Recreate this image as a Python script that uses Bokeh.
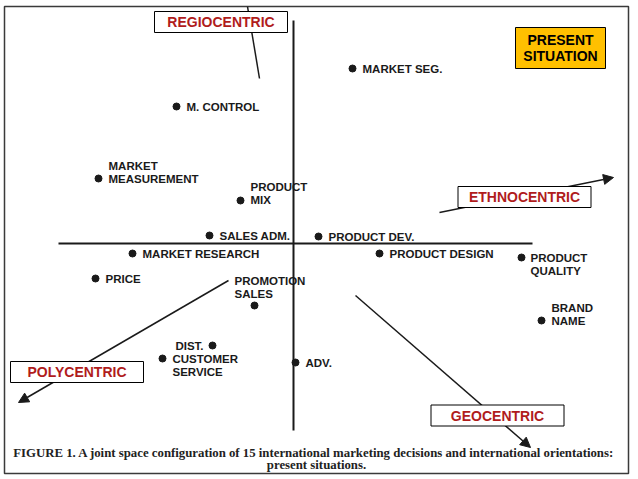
from bokeh.plotting import figure
from bokeh.models import Range1d, Arrow, NormalHead
from bokeh.core.properties import value
from bokeh.embed import file_html
from bokeh.resources import INLINE

# ---------------- data ----------------
decisions = ["M. CONTROL", "MARKET SEG.", "MARKET\nMEASUREMENT", "PRODUCT\nMIX", "SALES ADM.",
             "PRODUCT DEV.", "MARKET RESEARCH", "PRICE", "PROMOTION\nSALES", "DIST.",
             "CUSTOMER\nSERVICE", "ADV.", "PRODUCT DESIGN", "PRODUCT\nQUALITY", "BRAND\nNAME"]
dim1 = [-1.17, 0.59, -1.95, -0.53, -0.84, 0.25, -1.61, -1.98, -0.39, -0.81, -1.31, 0.02, 0.86, 2.28, 2.48]
dim2 = [1.37, 1.75, 0.65, 0.43, 0.08, 0.07, -0.10, -0.35, -0.62, -1.02, -1.15, -1.19, -0.10, -0.14, -0.77]

orientations = ["REGIOCENTRIC", "ETHNOCENTRIC", "POLYCENTRIC", "GEOCENTRIC"]
vec_x0 = [-0.34, 1.46, -0.65, 0.62]
vec_y0 = [1.65, 0.31, -0.37, -0.52]
vec_x1 = [-0.46, 3.20, -2.75, 2.37]
vec_y1 = [2.37, 0.66, -1.59, -2.04]
vec_head = [False, True, True, True]

axis_h = [-2.35, 2.39]   # extent of dimension-1 axis
axis_v = [-1.87, 2.23]   # extent of dimension-2 axis

badge_text = "PRESENT\nSITUATION"
caption = ["FIGURE 1.  A joint space configuration of 15 international marketing decisions and international orientations:",
           "present situations."]

# ---------------- layout / style ----------------
W, H = 638, 479
BL, BT, BR, BB = 4, 6, 10, 6          # frame insets
XR = (-2.89, 3.35)
YR = (-2.30, 2.37)
PX = (W - BL - BR) / (XR[1] - XR[0])   # pixels per unit
LINE = 13                              # label line spacing (px)

label_layout = {
    "M. CONTROL": (10, 0, "left"), "MARKET SEG.": (10, 0, "left"),
    "MARKET\nMEASUREMENT": (10, -13, "left"), "PRODUCT\nMIX": (10, -14, "left"),
    "SALES ADM.": (10, 0, "left"), "PRODUCT DEV.": (10, 0, "left"),
    "MARKET RESEARCH": (10, 0, "left"), "PRICE": (10, 0, "left"),
    "PROMOTION\nSALES": (-20, -25, "left"), "DIST.": (-9, 0, "right"),
    "CUSTOMER\nSERVICE": (10, 0, "left"), "ADV.": (10, 0, "left"),
    "PRODUCT DESIGN": (10, 0, "left"), "PRODUCT\nQUALITY": (9, 0, "left"),
    "BRAND\nNAME": (10, -13, "left"),
}
box_center = {"REGIOCENTRIC": (-0.725, 2.215), "ETHNOCENTRIC": (2.31, 0.465),
              "POLYCENTRIC": (-2.165, -1.285), "GEOCENTRIC": (2.04, -1.72)}
badge_center = (2.67, 1.955)
caption_pos = [(0.22, -2.09), (0.23, -2.21)]

RED = "#B01C1C"
GOLD = "#FFC000"
INK = "#1a1a1a"

p = figure(width=W, height=H, x_range=Range1d(*XR), y_range=Range1d(*YR),
           output_backend="svg", toolbar_location=None,
           x_axis_type=None, y_axis_type=None,
           min_border_left=BL, min_border_top=BT, min_border_right=BR, min_border_bottom=BB)
p.grid.visible = False
p.background_fill_color = "white"
p.border_fill_color = "white"
p.outline_line_color = "#3a3a3a"
p.outline_line_width = 1.5

# axes of the joint space
p.line(axis_h, [0, 0], line_color=INK, line_width=2)
p.line([0, 0], axis_v, line_color=INK, line_width=2)

# orientation vectors (beneath the boxes)
for x0, y0, x1, y1, hd in zip(vec_x0, vec_y0, vec_x1, vec_y1, vec_head):
    if hd:
        p.add_layout(Arrow(x_start=x0, y_start=y0, x_end=x1, y_end=y1,
                           line_color=INK, line_width=1.5, level="underlay",
                           end=NormalHead(size=10, fill_color=INK, line_color=INK, line_width=1)))
    else:
        p.segment(x0=[x0], y0=[y0], x1=[x1], y1=[y1], line_color=INK, line_width=1.5,
                  level="underlay")

# decision points
p.scatter(dim1, dim2, size=7, color=INK, marker="circle")

# decision labels
groups = {"left": dict(x=[], y=[], t=[]), "right": dict(x=[], y=[], t=[])}
for name, x, y in zip(decisions, dim1, dim2):
    dx, dy, al = label_layout[name]
    for i, ln in enumerate(name.split("\n")):
        groups[al]["x"].append(x + dx / PX)
        groups[al]["y"].append(y - (dy + i * LINE) / PX)
        groups[al]["t"].append(ln)
for al, g in groups.items():
    p.text(g["x"], g["y"], text=g["t"], text_align=al, text_baseline="middle",
           text_font=value("Liberation Sans"), text_font_style="bold",
           text_font_size="11.5px", text_color=INK)

# orientation boxes
bx = [box_center[o][0] for o in orientations]
by = [box_center[o][1] for o in orientations]
p.rect(bx, by, width=133, height=21, width_units="screen", height_units="screen",
       fill_color="white", line_color="black", line_width=1)
p.text(bx, by, text=orientations, text_align="center", text_baseline="middle",
       text_font=value("Liberation Sans"), text_font_style="bold",
       text_font_size="14px", text_color=RED)

# present situation badge
p.rect([badge_center[0]], [badge_center[1]], width=90, height=41, width_units="screen",
       height_units="screen", fill_color=GOLD, line_color="black", line_width=1)
bl = badge_text.split("\n")
p.text([badge_center[0]] * 2, [badge_center[1] + 8.5 / PX, badge_center[1] - 7.5 / PX], text=bl,
       text_align="center", text_baseline="middle",
       text_font=value("Liberation Sans"), text_font_style="bold",
       text_font_size="14px", text_color="black")

# caption
p.text([c[0] for c in caption_pos], [c[1] for c in caption_pos], text=caption,
       text_align="center", text_baseline="middle",
       text_font=value("Liberation Serif"), text_font_style="bold",
       text_font_size="12.8px", text_color="#222222")

open("out.html", "w").write(file_html(p, INLINE))
